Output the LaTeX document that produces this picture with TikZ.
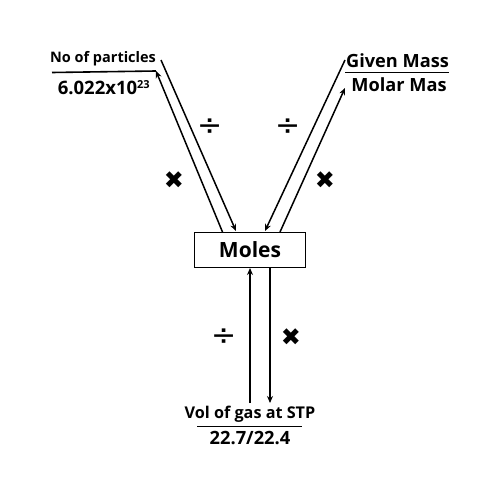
\documentclass[tikz,border=0pt]{standalone}
\usepackage{fontspec}
\setmainfont{Open Sans}
\newfontfamily\symfont{DejaVu Sans}
\usetikzlibrary{arrows.meta}
\begin{document}
\begin{tikzpicture}[x=1pt,y=-1pt,
  conn/.style={line width=1.5pt,-{Stealth[length=7pt,width=6pt]}},
  fracline/.style={line width=1.6pt},
  lbl/.style={inner sep=0pt,font=\bfseries},
  op/.style={inner sep=0pt,font=\symfont}]
\useasboundingbox (0,0) rectangle (500,500);
% box
\node[draw,line width=1.1pt,minimum width=111pt,minimum height=35pt,inner sep=0pt,font=\bfseries\fontsize{21}{25}\selectfont] (moles) at (250,250) {Moles};
% coordinates
\coordinate (a1) at (161,60);
\coordinate (a2) at (236,231);
\coordinate (b1) at (222.5,232);
\coordinate (b2) at (156,71);
\coordinate (c1) at (345,60);
\coordinate (c2) at (265,231);
\coordinate (d1) at (280,232);
\coordinate (d2) at (345,88);
\coordinate (e1) at (250,403);
\coordinate (e2) at (250,268);
\coordinate (f1) at (270,268);
\coordinate (f2) at (270,403);
\coordinate (l1) at (52,72.5);
\coordinate (r2) at (449,72.5);
\coordinate (v1) at (197,426.5);
\coordinate (v2) at (302,426.5);
% texts
\node[lbl,font=\bfseries\fontsize{14.5}{17}\selectfont] (np) at (103,58.5) {No of particles};
\node[lbl,font=\bfseries\fontsize{18.5}{22}\selectfont] (av) at (104,88) {6.022x10\textsuperscript{\fontsize{11}{12}\selectfont 23}};
\node[lbl,font=\bfseries\fontsize{18.2}{22}\selectfont] (gm) at (397.5,61) {Given Mass};
\node[lbl,font=\bfseries\fontsize{18.2}{22}\selectfont] (mm) at (399,85) {Molar Mas};
\node[lbl,font=\bfseries\fontsize{16.2}{19}\selectfont] (vg) at (250,414) {Vol of gas at STP};
\node[lbl,font=\bfseries\fontsize{18.3}{22}\selectfont] (vv) at (250,438) {22.7/22.4};
% fraction lines
\draw[fracline] (l1) -- (b2);
\draw[fracline] (d2 |- r2) -- (r2);
\draw[fracline] (v1) -- (v2);
% connectors
\draw[conn] (a1) -- (a2);
\draw[conn] (b1) -- (b2);
\draw[conn] (c1) -- (c2);
\draw[conn] (d1) -- (d2);
\draw[conn] (e1) -- (e2);
\draw[conn] (f1) -- (f2);
% operators
\node[op,font=\symfont\fontsize{30}{32}\selectfont] (dv1) at (210,127) {÷};
\node[op,font=\symfont\fontsize{30}{32}\selectfont] (dv2) at (288,127) {÷};
\node[op,font=\symfont\fontsize{30}{32}\selectfont] (dv3) at (224,337) {÷};
\node[op,font=\symfont\fontsize{24}{26}\selectfont] (mu1) at (174,180) {✖};
\node[op,font=\symfont\fontsize{24}{26}\selectfont] (mu2) at (325,180) {✖};
\node[op,font=\symfont\fontsize{24}{26}\selectfont] (mu3) at (291,337) {✖};
\end{tikzpicture}
\end{document}
